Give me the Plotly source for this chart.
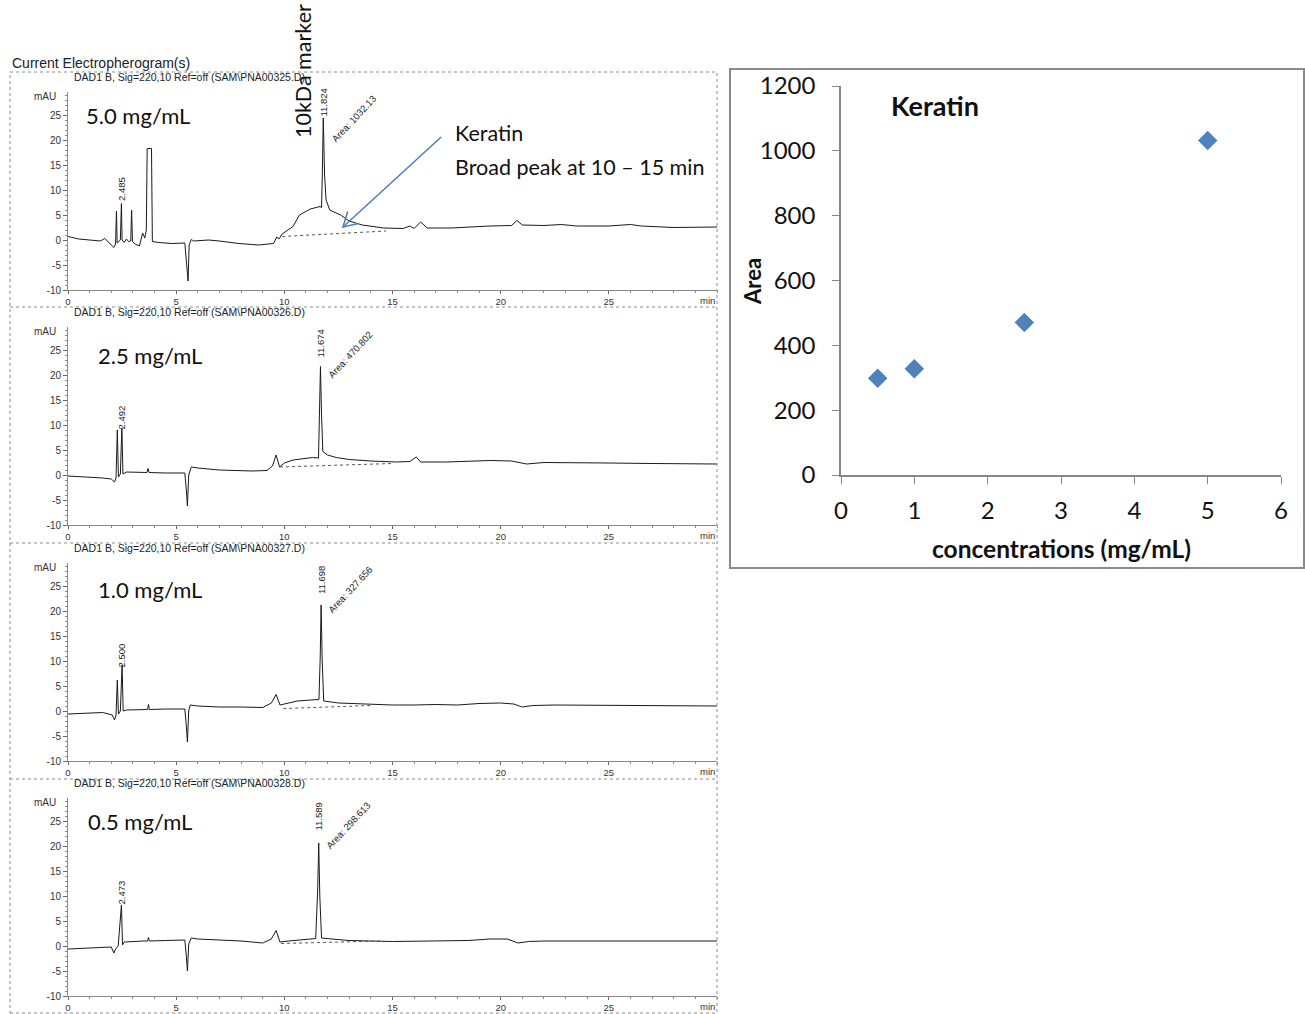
import plotly.graph_objects as go

W, H = 1305, 1014

# ---------------- data ----------------
conc = [0.5, 1.0, 2.5, 5.0]
area = [298.613, 327.656, 470.802, 1032.13]

panel_labels = ["5.0 mg/mL", "2.5 mg/mL", "1.0 mg/mL", "0.5 mg/mL"]
panel_files = ["PNA00325.D", "PNA00326.D", "PNA00327.D", "PNA00328.D"]
small_rt = ["2.485", "2.492", "2.500", "2.473"]
main_rt = ["11.824", "11.674", "11.698", "11.589"]
main_area = ["1032.13", "470.802", "327.656", "298.613"]

x_ticks = [0, 5, 10, 15, 20, 25]
y_ticks = [-10, -5, 0, 5, 10, 15, 20, 25]
y_tick_text = ["-10", "-5", "0", "5", "10", "15", "20", "25"]
area_ticks = [0, 200, 400, 600, 800, 1000, 1200]
conc_ticks = [0, 1, 2, 3, 4, 5, 6]

# electropherogram 1 (5.0 mg/mL)
t1 = [0.0, 0.5, 1.0, 1.5, 1.7, 1.85, 2.05, 2.12, 2.2, 2.24, 2.27, 2.35, 2.42, 2.47, 2.5,
      2.6, 2.7, 2.8, 2.9, 2.94, 2.98, 3.1, 3.3, 3.45, 3.55, 3.62, 3.66, 3.86, 3.9, 4.2,
      4.8, 5.4, 5.5, 5.55, 5.6, 5.7, 5.8, 6.5, 7.0, 7.9, 8.8, 9.3, 9.5, 9.65, 9.75, 9.9,
      10.0, 10.4, 10.7, 11.2, 11.65, 11.72, 11.76, 11.8, 11.86, 11.93, 12.1, 12.6, 13.0,
      13.6, 14.6, 15.5, 15.8, 16.0, 16.3, 16.6, 17.7, 18.5, 19.5, 20.5, 20.75, 21.0, 22.0,
      22.8, 23.5, 25.0, 26.0, 26.5, 28.0, 30.0]
s1 = [0.7, 0.2, 0.0, -0.2, 0.3, -0.4, -1.2, -1.5, -0.8, 5.8, -0.6, -0.2, 0.0, 7.3, 0.0,
      -0.5, 0.2, -0.3, -0.2, 6.0, -0.3, -0.8, -1.2, 1.4, 0.4, 2.0, 18.3, 18.3, -0.3, -0.5,
      -0.7, -0.6, -5.0, -8.2, -1.0, 0.1, -0.2, 0.0, -0.2, -0.7, -1.0, -0.8, -0.7, 0.6, 0.2, 1.2,
      1.5, 2.7, 5.0, 6.2, 6.7, 6.5, 14.0, 24.4, 13.0, 8.0, 6.0, 5.0, 3.8,
      3.0, 2.4, 2.3, 2.8, 2.3, 3.6, 2.4, 2.4, 2.6, 2.8, 2.9, 3.9, 3.0, 2.9,
      3.1, 2.8, 2.8, 3.1, 2.8, 2.5, 2.6]

# electropherogram 2 (2.5 mg/mL)
t2 = [0.0, 1.0, 1.6, 2.0, 2.15, 2.22, 2.28, 2.33, 2.42, 2.49, 2.54, 2.7, 3.2, 3.65, 3.7,
      3.75, 4.5, 5.4, 5.47, 5.52, 5.58, 5.7, 6.0, 7.0, 8.5, 9.2, 9.45, 9.62, 9.78, 10.0,
      10.4, 10.9, 11.3, 11.58, 11.63, 11.67, 11.72, 11.78, 12.0, 12.4, 13.0, 14.0, 15.2,
      15.8, 16.1, 16.3, 17.5, 18.5, 19.5, 20.5, 21.2, 22.0, 23.0, 25.0, 27.0, 30.0]
s2 = [-0.2, -0.4, -0.6, -0.8, -1.4, -0.6, 9.0, -0.4, 0.2, 9.4, 0.2, 0.6, 0.6, 0.5, 1.3,
      0.5, 0.4, 0.4, -3.0, -6.2, 0.0, 1.6, 1.4, 1.0, 0.8, 0.9, 1.8, 4.0, 1.6, 2.4,
      3.0, 3.3, 3.5, 3.4, 12.0, 21.7, 12.0, 4.7, 4.0, 3.5, 3.1, 2.8, 2.6,
      2.7, 3.6, 2.6, 2.6, 2.7, 2.9, 2.8, 2.2, 2.5, 2.5, 2.4, 2.3, 2.2]

# electropherogram 3 (1.0 mg/mL)
t3 = [0.0, 1.0, 1.6, 2.05, 2.15, 2.22, 2.28, 2.33, 2.42, 2.5, 2.55, 2.7, 3.5, 3.68, 3.72,
      3.76, 4.5, 5.4, 5.47, 5.52, 5.58, 5.65, 6.0, 7.0, 8.0, 9.0, 9.4, 9.62, 9.8, 10.0,
      10.6, 11.2, 11.6, 11.66, 11.7, 11.75, 11.82, 12.5, 14.0, 15.0, 16.0, 17.0, 18.0,
      19.0, 20.0, 20.6, 21.0, 21.5, 22.5, 25.0, 27.5, 30.0]
s3 = [-0.6, -0.5, -0.3, -0.8, -1.8, -0.8, 6.2, -0.6, 0.0, 9.2, 0.0, 0.2, 0.2, 0.3, 1.3,
      0.3, 0.4, 0.4, -3.0, -6.2, 0.0, 1.2, 1.0, 0.8, 0.8, 0.7, 1.6, 3.3, 1.2, 1.4,
      2.0, 2.2, 2.3, 11.0, 21.2, 10.0, 2.0, 1.6, 1.3, 1.2, 1.2, 1.3, 1.2,
      1.5, 1.6, 1.4, 0.8, 1.1, 1.2, 1.1, 1.0, 1.0]

# electropherogram 4 (0.5 mg/mL)
t4 = [0.0, 1.0, 1.6, 2.0, 2.12, 2.2, 2.32, 2.47, 2.52, 2.6, 3.5, 3.68, 3.72, 3.76, 4.5,
      5.4, 5.47, 5.52, 5.58, 5.7, 6.0, 7.0, 8.0, 9.0, 9.4, 9.62, 9.8, 10.2, 11.0, 11.45,
      11.54, 11.59, 11.64, 11.72, 12.2, 13.0, 15.0, 17.0, 18.5, 19.5, 20.3, 20.8, 21.3,
      22.0, 25.0, 30.0]
s4 = [-0.6, -0.4, -0.2, -0.2, -1.4, -0.6, 0.0, 8.2, 0.2, 0.8, 1.0, 1.0, 1.7, 1.0, 1.1,
      1.2, -2.0, -5.0, 0.4, 1.6, 1.4, 1.2, 1.0, 0.6, 1.4, 3.1, 0.8, 1.0, 1.3, 1.5,
      11.0, 20.6, 10.0, 1.6, 1.4, 1.1, 0.9, 1.0, 1.1, 1.4, 1.4, 0.6, 0.9,
      1.0, 1.0, 1.0]

# integration baselines (dotted)
bt1, bs1 = [9.9, 14.7], [0.7, 1.8]
bt2, bs2 = [9.8, 15.0], [1.6, 2.3]
bt3, bs3 = [9.95, 14.0], [0.5, 1.1]
bt4, bs4 = [9.85, 14.5], [0.5, 1.0]

traces_t = [t1, t2, t3, t4]
traces_s = [s1, s2, s3, s4]
base_t = [bt1, bt2, bt3, bt4]
base_s = [bs1, bs2, bs3, bs4]

# ---------------- layout helpers ----------------
def PX(x):
    return x / W


def PY(y):
    return 1 - y / H


CAL = "Lato, Carlito, Calibri, sans-serif"
ARI = "Liberation Sans, Arial, sans-serif"

zeros = [240, 475, 711, 946]   # pixel row of 0 mAU in each panel
x_dom = [PX(68), PX(717)]

fig = go.Figure()

for k in range(4):
    n = "" if k == 0 else str(k + 1)
    fig.add_trace(go.Scatter(x=traces_t[k], y=traces_s[k], mode="lines",
                             line=dict(color="#1a1a1a", width=1),
                             xaxis="x" + n, yaxis="y" + n, hoverinfo="skip"))
    fig.add_trace(go.Scatter(x=base_t[k], y=base_s[k], mode="lines",
                             line=dict(color="#555555", width=1, dash="dot"),
                             xaxis="x" + n, yaxis="y" + n, hoverinfo="skip"))

fig.add_trace(go.Scatter(x=conc, y=area, mode="markers",
                         marker=dict(symbol="diamond", size=15, color="#4F81BD",
                                     line=dict(width=0)),
                         xaxis="x5", yaxis="y5"))

layout = dict(width=W, height=H,
              margin=dict(l=0, r=0, t=0, b=0, pad=0, autoexpand=False),
              paper_bgcolor="white", plot_bgcolor="white", showlegend=False)

for k in range(4):
    n = "" if k == 0 else str(k + 1)
    z = zeros[k]
    layout["xaxis" + n] = dict(domain=x_dom, range=[0, 30], anchor="y" + n,
                               tickvals=x_ticks, ticks="outside", ticklen=3,
                               tickcolor="#666", showline=True, linecolor="#888",
                               linewidth=1, showgrid=False, zeroline=False,
                               automargin=False,
                               tickfont=dict(family=ARI, size=9.5, color="#333"),
                               minor=dict(dtick=1, ticks="outside", ticklen=2,
                                          tickcolor="#888"),
                               fixedrange=True)
    layout["yaxis" + n] = dict(domain=[PY(z + 50), PY(z - 148)], range=[-10, 29.6],
                               anchor="x" + n, tickvals=y_ticks, ticktext=y_tick_text,
                               ticks="outside", ticklen=4, tickcolor="#666",
                               showline=True, linecolor="#888", linewidth=1,
                               showgrid=False, zeroline=False, automargin=False,
                               tickfont=dict(family=ARI, size=10, color="#333"),
                               minor=dict(dtick=1, ticks="outside", ticklen=2,
                                          tickcolor="#888"),
                               fixedrange=True)

layout["xaxis5"] = dict(domain=[PX(841), PX(1281)], range=[0, 6], anchor="y5",
                        tickvals=conc_ticks, ticks="outside", ticklen=7,
                        tickcolor="#868686", showline=True, linecolor="#868686",
                        linewidth=1.5, showgrid=False, zeroline=False,
                        automargin=False, ticklabelstandoff=6,
                        tickfont=dict(family=CAL, size=24, color="#111"),
                        fixedrange=True)
layout["yaxis5"] = dict(domain=[PY(475), PY(86)], range=[0, 1200], anchor="x5",
                        tickvals=area_ticks, ticks="outside", ticklen=7,
                        tickcolor="#868686", showline=True, linecolor="#868686",
                        linewidth=1.5, showgrid=False, zeroline=False,
                        automargin=False, ticklabelstandoff=12,
                        tickfont=dict(family=CAL, size=24, color="#111"),
                        fixedrange=True)

ann = []
shapes = []


def txt(x, y, s, size, family=CAL, xanchor="left", angle=0, bold=False, color="#111"):
    ann.append(dict(x=PX(x), y=PY(y), xref="paper", yref="paper",
                    text=("<b>%s</b>" % s) if bold else s, showarrow=False,
                    xanchor=xanchor, yanchor="middle", textangle=angle,
                    font=dict(family=family, size=size, color=color)))


txt(10, 63, "Current Electropherogram(s)", 14, family=ARI, color="#222")

conc_pos = [(84, 115), (96, 355), (96, 589), (86, 821)]
small_pos = [(2.45, 10.2), (2.45, 11.5), (2.45, 11.1), (2.45, 10.7)]
rt_pos = [(11.79, 27.5), (11.65, 26.3), (11.70, 26.2), (11.56, 25.9)]
area_pos = [(13.22, 24.3), (13.04, 24.2), (13.04, 24.4), (12.94, 24.2)]

for k in range(4):
    n = "" if k == 0 else str(k + 1)
    z = zeros[k]
    txt(72, z - 163, "DAD1 B, Sig=220,10 Ref=off (SAM\\%s)" % panel_files[k], 10.5,
        family=ARI, color="#222")
    txt(58, z - 144, "mAU", 10, family=ARI, xanchor="right", color="#333")
    txt(conc_pos[k][0], conc_pos[k][1], panel_labels[k], 22)
    ann.append(dict(x=30, y=-10, xref="x" + n, yref="y" + n, text="min",
                    showarrow=False, xanchor="right", yanchor="top", yshift=-3,
                    font=dict(family=ARI, size=9.5, color="#333")))
    for (px_, py_), s, ang in [(small_pos[k], small_rt[k], -90),
                               (rt_pos[k], main_rt[k], -90),
                               (area_pos[k], "Area: " + main_area[k], -47)]:
        ann.append(dict(x=px_, y=py_, xref="x" + n, yref="y" + n, text=s,
                        showarrow=False, xanchor="center", yanchor="middle",
                        textangle=ang, font=dict(family=ARI, size=9.5, color="#222")))

txt(303, 71, "10kDa marker", 21.5, xanchor="center", angle=-90)
txt(453, 133, "Keratin", 21.5)
txt(453, 167, "Broad peak at 10 \u2013 15 min", 21.5)

# right chart texts
txt(889, 106, "Keratin", 27, bold=True)
txt(752, 281, "Area", 22, xanchor="center", angle=-90, bold=True)
txt(1061, 548, "concentrations (mg/mL)", 24.5, xanchor="center", bold=True)

# blue arrow (panel 1)
blue = "#4A7EBB"
shapes.append(dict(type="line", xref="x", yref="y", x0=17.25, y0=20.6, x1=12.71, y1=2.6,
                   line=dict(color=blue, width=1.5)))
shapes.append(dict(type="path", xref="x", yref="y",
                   path="M 12.93,5.7 L 12.71,2.6 L 13.43,3.3",
                   line=dict(color=blue, width=1.5)))

# dotted frames
frame = dict(color="#8c8c8c", width=1, dash="dot")
shapes.append(dict(type="rect", xref="paper", yref="paper", x0=PX(10), x1=PX(717),
                   y0=PY(1013), y1=PY(72), line=frame))
for yy in [307, 543, 779]:
    shapes.append(dict(type="line", xref="paper", yref="paper", x0=PX(10), x1=PX(717),
                       y0=PY(yy), y1=PY(yy), line=frame))

# right chart border
shapes.append(dict(type="rect", xref="paper", yref="paper", x0=PX(730), x1=PX(1304),
                   y0=PY(568), y1=PY(69), line=dict(color="#8a8a8a", width=2)))

layout["annotations"] = ann
layout["shapes"] = shapes
fig.update_layout(**layout)
fig.write_html("out.html",
               config={"displayModeBar": False},
               post_script="document.body.style.margin='0';"
                           "document.body.style.overflow='hidden';")
